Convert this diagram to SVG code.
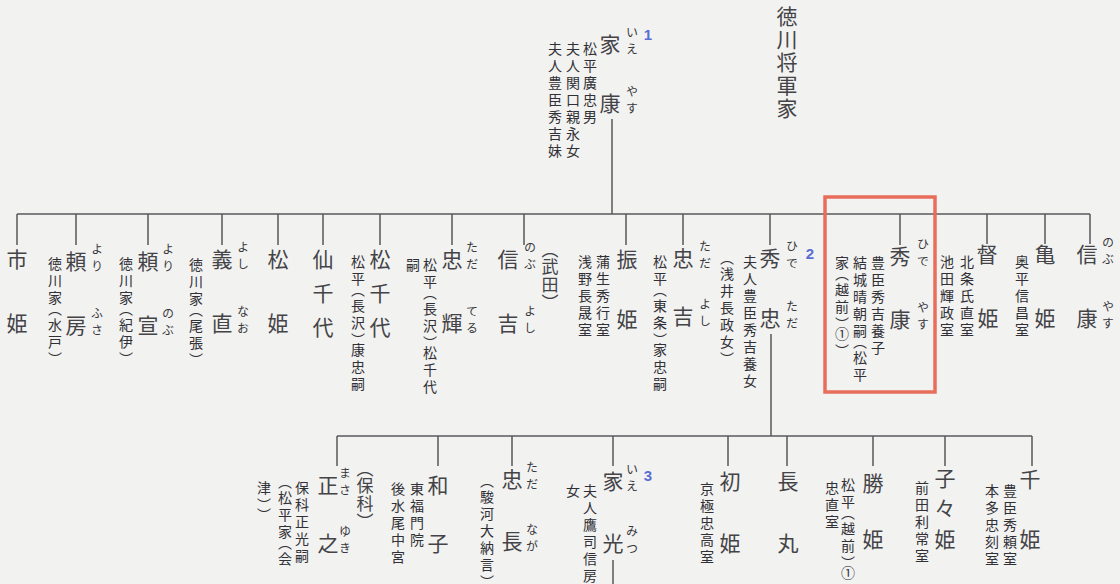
<svg xmlns="http://www.w3.org/2000/svg" width="1120" height="584" viewBox="0 0 1120 584">
<style>
text{font-family:"Noto Sans CJK JP","Noto Sans CJK SC",sans-serif;}
.n{font-size:21px;fill:#444448;text-anchor:middle;dominant-baseline:central;}
.a{font-size:14px;fill:#303036;writing-mode:vertical-rl;letter-spacing:3px;font-feature-settings:"vpal" 1;}
.p{font-size:17px;fill:#444448;writing-mode:vertical-rl;letter-spacing:1px;font-feature-settings:"vpal" 1;}
.r{font-size:12px;fill:#38383e;writing-mode:vertical-rl;letter-spacing:5px;}
.t{font-size:21px;fill:#444448;writing-mode:vertical-rl;letter-spacing:2px;}
.num{font-family:"Liberation Sans",Arial,sans-serif;font-size:15px;font-weight:bold;fill:#5a6ed4;text-anchor:middle;dominant-baseline:central;}
.ln{stroke:#58585c;stroke-width:1.5;fill:none;}
</style>
<rect width="1120" height="584" fill="#f2f2f0"/>

<g id="connectors" class="ln">
<path d="M612,119V214"/>
<path d="M17,214H1090"/>
<path d="M17,214V245M76,214V245M148,214V245M222,214V245M278,214V245M323,214V245M380,214V245M452,214V245M524,214V245M626,214V245M683,214V245M770,214V245M900,214V245M987,214V244M1045,214V244M1090,214V244"/>
<path d="M771,334V436"/>
<path d="M337,436H1032"/>
<path d="M337,436V466M438,436V466M512,436V466M613,436V466M728,436V466M787,436V466M873,436V466M945,436V466M1032,436V466"/>
<path d="M613,560V584"/>
</g>

<g id="title"><text class="t" x="787" y="6">徳川将軍家</text></g>

<g id="ieyasu">
<text class="n" x="610" y="43">家</text><text class="n" x="610" y="102">康</text>
<text class="r" x="632" y="26">いえ</text><text class="r" x="632" y="85">やす</text>
<text class="num" x="648" y="34">1</text>
<text class="a" x="590" y="42">松平廣忠男</text>
<text class="a" x="573" y="42">夫人関口親永女</text>
<text class="a" x="555" y="42">夫人豊臣秀吉妹</text>
</g>

<g id="ichihime"><text class="n" x="17" y="258">市</text><text class="n" x="17" y="322">姫</text></g>

<g id="yorifusa">
<text class="n" x="76" y="260">頼</text><text class="n" x="76" y="324">房</text>
<text class="r" x="97" y="243">より</text><text class="r" x="97" y="307">ふさ</text>
<text class="a" x="55" y="257">徳川家（水戸）</text>
</g>

<g id="yorinobu">
<text class="n" x="148" y="260">頼</text><text class="n" x="148" y="324">宣</text>
<text class="r" x="168" y="243">より</text><text class="r" x="168" y="307">のぶ</text>
<text class="a" x="126" y="257">徳川家（紀伊）</text>
</g>

<g id="yoshinao">
<text class="n" x="222" y="258">義</text><text class="n" x="222" y="322">直</text>
<text class="r" x="243" y="241">よし</text><text class="r" x="243" y="305">なお</text>
<text class="a" x="196" y="258">徳川家（尾張）</text>
</g>

<g id="matsuhime"><text class="n" x="278" y="258">松</text><text class="n" x="278" y="322">姫</text></g>

<g id="senchiyo"><text class="n" x="323" y="258">仙</text><text class="n" x="323" y="292">千</text><text class="n" x="323" y="326">代</text></g>

<g id="matsuchiyo">
<text class="n" x="380" y="258">松</text><text class="n" x="380" y="292">千</text><text class="n" x="380" y="326">代</text>
<text class="a" x="358" y="255">松平（長沢）康忠嗣</text>
</g>

<g id="tadateru">
<text class="n" x="452" y="258">忠</text><text class="n" x="452" y="322">輝</text>
<text class="r" x="472" y="241">ただ</text><text class="r" x="472" y="305">てる</text>
<text class="a" x="430" y="258">松平（長沢）松千代</text>
<text class="a" x="413" y="258">嗣</text>
</g>

<g id="nobuyoshi">
<text class="n" x="508" y="258">信</text><text class="n" x="508" y="322">吉</text>
<text class="r" x="530" y="241">のぶ</text><text class="r" x="530" y="305">よし</text>
<text class="p" x="550" y="249">（武田）</text>
</g>

<g id="furihime">
<text class="n" x="627" y="258">振</text><text class="n" x="627" y="318">姫</text>
<text class="a" x="603" y="255">蒲生秀行室</text>
<text class="a" x="585" y="255">浅野長晟室</text>
</g>

<g id="tadayoshi">
<text class="n" x="683" y="257">忠</text><text class="n" x="683" y="315">吉</text>
<text class="r" x="705" y="240">ただ</text><text class="r" x="705" y="298">よし</text>
<text class="a" x="660" y="255">松平（東条）家忠嗣</text>
</g>

<g id="hidetada">
<text class="n" x="770" y="257">秀</text><text class="n" x="770" y="317">忠</text>
<text class="r" x="792" y="240">ひで</text><text class="r" x="792" y="300">ただ</text>
<text class="num" x="810" y="253">2</text>
<text class="a" x="750" y="255">夫人豊臣秀吉養女</text>
<text class="a" x="727" y="257">（浅井長政女）</text>
</g>

<g id="hideyasu">
<rect x="825" y="197" width="110" height="195" fill="none" stroke="#e86e5c" stroke-width="3.5"/>
<text class="n" x="900" y="255">秀</text><text class="n" x="900" y="318">康</text>
<text class="r" x="923" y="238">ひで</text><text class="r" x="923" y="301">やす</text>
<text class="a" x="878" y="256">豊臣秀吉養子</text>
<text class="a" x="860" y="256">結城晴朝嗣（松平</text>
<text class="a" x="842" y="256">家（越前）①）</text>
</g>

<g id="tokuhime">
<text class="n" x="987" y="253">督</text><text class="n" x="988" y="317">姫</text>
<text class="a" x="967" y="255">北条氏直室</text>
<text class="a" x="947" y="255">池田輝政室</text>
</g>

<g id="kamehime">
<text class="n" x="1045" y="253">亀</text><text class="n" x="1045" y="317">姫</text>
<text class="a" x="1022" y="255">奥平信昌室</text>
</g>

<g id="nobuyasu">
<text class="n" x="1087" y="253">信</text><text class="n" x="1087" y="317">康</text>
<text class="r" x="1108" y="236">のぶ</text><text class="r" x="1108" y="300">やす</text>
</g>

<g id="masayuki">
<text class="n" x="328" y="484">正</text><text class="n" x="328" y="542">之</text>
<text class="r" x="345" y="467">まさ</text><text class="r" x="345" y="525">ゆき</text>
<text class="p" x="365" y="468">（保科）</text>
<text class="a" x="302" y="481">保科正光嗣</text>
<text class="a" x="285" y="481">（松平家（会</text>
<text class="a" x="264" y="481">津））</text>
</g>

<g id="kazuko">
<text class="n" x="438" y="484">和</text><text class="n" x="438" y="542">子</text>
<text class="a" x="417" y="482">東福門院</text>
<text class="a" x="398" y="482">後水尾中宮</text>
</g>

<g id="tadanaga">
<text class="n" x="512" y="478">忠</text><text class="n" x="512" y="540">長</text>
<text class="r" x="532" y="461">ただ</text><text class="r" x="532" y="523">なが</text>
<text class="a" x="487" y="480">（駿河大納言）</text>
</g>

<g id="iemitsu">
<text class="n" x="613" y="480">家</text><text class="n" x="613" y="542">光</text>
<text class="r" x="632" y="463">いえ</text><text class="r" x="632" y="525">みつ</text>
<text class="num" x="648" y="475">3</text>
<text class="a" x="590" y="484">夫人鷹司信房</text>
<text class="a" x="573" y="484">女</text>
</g>

<g id="hatsuhime">
<text class="n" x="730" y="480">初</text><text class="n" x="730" y="542">姫</text>
<text class="a" x="707" y="482">京極忠高室</text>
</g>

<g id="chomaru"><text class="n" x="788" y="480">長</text><text class="n" x="788" y="542">丸</text></g>

<g id="katsuhime">
<text class="n" x="873" y="482">勝</text><text class="n" x="873" y="538">姫</text>
<text class="a" x="848" y="478">松平（越前）①</text>
<text class="a" x="832" y="481">忠直室</text>
</g>

<g id="nenehime">
<text class="n" x="945" y="477">子</text><text class="n" x="945" y="507">々</text><text class="n" x="945" y="538">姫</text>
<text class="a" x="922" y="481">前田利常室</text>
</g>

<g id="senhime">
<text class="n" x="1030" y="478">千</text><text class="n" x="1030" y="538">姫</text>
<text class="a" x="1010" y="484">豊臣秀頼室</text>
<text class="a" x="992" y="484">本多忠刻室</text>
</g>
</svg>
